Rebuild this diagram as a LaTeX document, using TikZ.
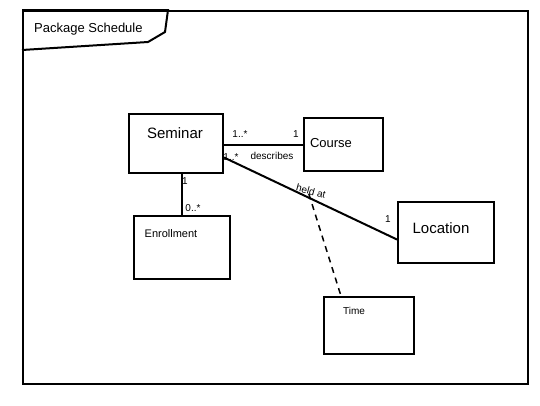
\documentclass[tikz,border=0pt]{standalone}
\usepackage{fontspec}
\setmainfont{Liberation Sans}
\begin{document}
\begin{tikzpicture}[x=1pt,y=-1pt,
  box/.style={draw,line width=2pt,rectangle,inner sep=0pt},
  conn/.style={line width=2pt},
  lbl/.style={font=\fontsize{10}{11}\selectfont,inner sep=1pt},
  nametxt/.style={inner sep=0pt}]
\useasboundingbox (0,0) rectangle (540,405);
% frame
\node[box,minimum width=505pt,minimum height=373pt,anchor=north west] (frame) at (22,10) {};
\draw[conn] (frame.north west) -- (168,10) -- (165,32) -- (148,42) -- (22,50);
\node[nametxt,font=\fontsize{13}{15}\selectfont,anchor=west] (pkg) at (34,29) {Package Schedule};
% boxes
\node[box,minimum width=94pt,minimum height=59pt,anchor=north west] (sem) at (128,113) {};
\node[box,minimum width=79pt,minimum height=53pt,anchor=north west] (crs) at (303,117) {};
\node[box,minimum width=96pt,minimum height=63pt,anchor=north west] (enr) at (133,215) {};
\node[box,minimum width=96pt,minimum height=61pt,anchor=north west] (loc) at (397,201) {};
\node[box,minimum width=90pt,minimum height=57pt,anchor=north west] (tim) at (323,296) {};
% names
\node[nametxt,font=\fontsize{15}{17}\selectfont] (semt) at (175,133) {Seminar};
\node[nametxt,font=\fontsize{13}{15}\selectfont] (crst) at (331,143) {Course};
\node[nametxt,font=\fontsize{11}{13}\selectfont] (enrt) at (171,234) {Enrollment};
\node[nametxt,font=\fontsize{15}{17}\selectfont] (loct) at (441,228) {Location};
\node[nametxt,font=\fontsize{10}{12}\selectfont] (timt) at (354,311) {Time};
% connectors
\draw[conn] (sem.east |- 0,145) -- (crs.west |- 0,145);
\draw[conn] ([yshift=-14pt]sem.east) -- coordinate[pos=0.49] (mid) ([yshift=-7pt]loc.west);
\draw[conn] (enr.north |- sem.south) -- (enr.north);
\draw[line width=1.5pt,dash pattern=on 6pt off 5pt] ([yshift=4pt]mid) -- ([xshift=-28pt]tim.north);
% labels
\node[lbl] (l1) at (240,134) {1..*};
\node[lbl] (l2) at (296,134) {1};
\node[lbl] (l3) at (231,157) {1..*};
\node[lbl] (l4) at (272,156) {describes};
\node[lbl,rotate=-15] (l5) at (311,191) {held at};
\node[lbl] (l6) at (388,219) {1};
\node[lbl] (l7) at (185,181) {1};
\node[lbl] (l8) at (193,208) {0..*};
\end{tikzpicture}
\end{document}
